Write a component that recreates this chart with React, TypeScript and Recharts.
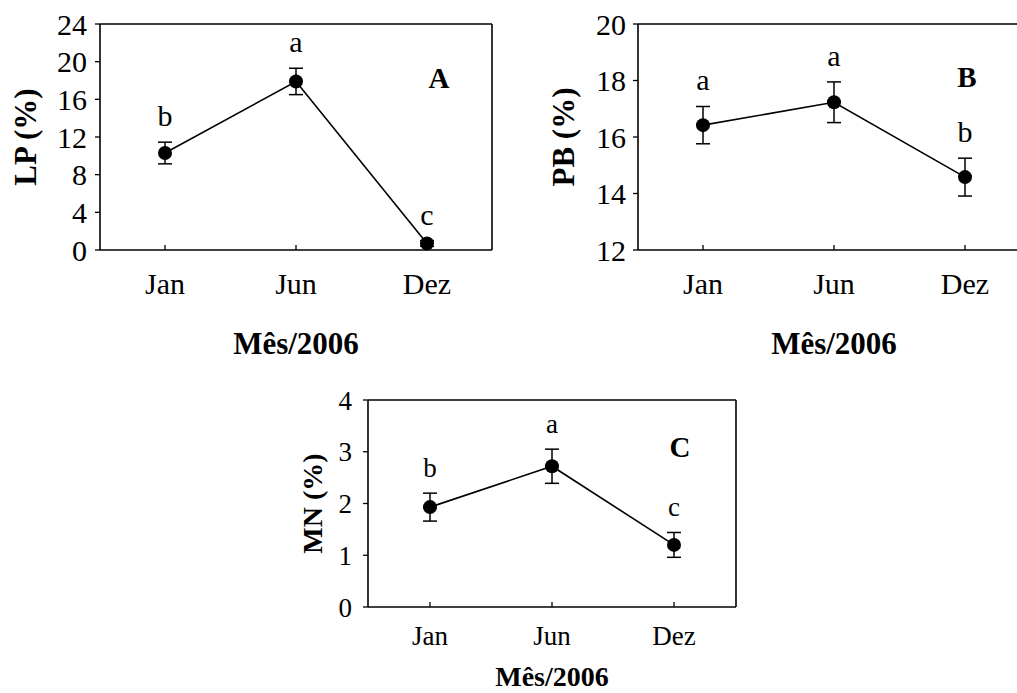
import React from "react";
import {
  LineChart,
  Line,
  XAxis,
  YAxis,
  ErrorBar,
  LabelList,
} from "recharts";

// meses de coleta
const months = ["Jan", "Jun", "Dez"];

// A - LP (%)
const lpMean = [10.3, 17.9, 0.7];
const lpErr = [1.15, 1.4, 0.3];
const lpSig = ["b", "a", "c"];
const lpTicks = [0, 4, 8, 12, 16, 20, 24];

// B - PB (%)
const pbMean = [16.42, 17.23, 14.58];
const pbErr = [0.66, 0.72, 0.67];
const pbSig = ["a", "a", "b"];
const pbTicks = [12, 14, 16, 18, 20];

// C - MN (%)
const mnMean = [1.93, 2.72, 1.2];
const mnErr = [0.27, 0.33, 0.24];
const mnSig = ["b", "a", "c"];
const mnTicks = [0, 1, 2, 3, 4];

const FONT = "'Liberation Serif', 'Times New Roman', serif";

const buildRows = (mean: number[], err: number[], sig: string[]) =>
  months.map((m, i) => ({
    m,
    v: mean[i],
    err: err[i],
    top: mean[i] + err[i],
    sig: sig[i],
  }));

interface PanelProps {
  rows: ReturnType<typeof buildRows>;
  ticks: number[];
  yLabel: string;
  tag: string;
  width: number;
  height: number;
  xAxisHeight: number;
  xPad: number;
  tickFont: number;
  labelFont: number;
  tagFont: number;
  yTickMargin: number;
  xTickMargin: number;
  yLabelDist: number;
  tagDx: number;
  tagDy: number;
  titleOffset: number;
}

function Panel(p: PanelProps) {
  const domain = [p.ticks[0], p.ticks[p.ticks.length - 1]];

  const yLabelContent = (props: any) => {
    const vb = props.viewBox || {};
    const cx = vb.x + vb.width - p.yLabelDist;
    const cy = vb.y + vb.height / 2;
    return (
      <text
        x={cx}
        y={cy}
        transform={`rotate(-90 ${cx} ${cy})`}
        textAnchor="middle"
        dominantBaseline="central"
        fontFamily={FONT}
        fontWeight="bold"
        fontSize={p.labelFont}
        fill="#000"
      >
        {p.yLabel}
      </text>
    );
  };

  // letra do painel (A, B, C), relativa ao canto superior direito
  const tagContent = (props: any) => {
    const vb = props.viewBox || {};
    return (
      <text
        x={vb.x + vb.width - p.tagDx}
        y={vb.y + vb.height + p.tagDy}
        textAnchor="middle"
        dominantBaseline="central"
        fontFamily={FONT}
        fontWeight="bold"
        fontSize={p.tagFont}
        fill="#000"
      >
        {p.tag}
      </text>
    );
  };

  const axisLine = { stroke: "#000", strokeWidth: 1.6 };

  return (
    <LineChart
      width={p.width}
      height={p.height}
      data={p.rows}
      margin={{ top: 23, right: 27, left: 0, bottom: 0 }}
    >
      <XAxis
        dataKey="m"
        height={p.xAxisHeight}
        padding={{ left: p.xPad, right: p.xPad }}
        axisLine={axisLine}
        tickLine={{ stroke: "#000", strokeWidth: 1.3 }}
        tickSize={-5}
        tickMargin={p.xTickMargin}
        tick={{ fill: "#000", fontSize: p.tickFont, fontFamily: FONT }}
        label={{
          value: "Mês/2006",
          position: "insideBottom",
          offset: p.titleOffset,
          fill: "#000",
          fontSize: p.labelFont,
          fontWeight: "bold",
          fontFamily: FONT,
        }}
      />
      <XAxis
        xAxisId="top"
        dataKey="m"
        orientation="top"
        height={1}
        padding={{ left: p.xPad, right: p.xPad }}
        tick={false}
        tickLine={false}
        axisLine={axisLine}
        label={{ value: p.tag, content: tagContent }}
      />
      <YAxis
        domain={domain}
        ticks={p.ticks}
        width={100}
        axisLine={axisLine}
        tickLine={{ stroke: "#000", strokeWidth: 1.3 }}
        tickSize={5}
        tickMargin={p.yTickMargin}
        interval={0}
        tick={{ fill: "#000", fontSize: p.tickFont, fontFamily: FONT }}
        label={{ value: p.yLabel, content: yLabelContent }}
      />
      <YAxis
        yAxisId="right"
        orientation="right"
        domain={domain}
        width={1}
        tick={false}
        tickLine={false}
        axisLine={axisLine}
      />
      <Line
        dataKey="v"
        stroke="#000"
        strokeWidth={1.6}
        dot={{ r: 7, fill: "#000", stroke: "#000", strokeWidth: 0 }}
        activeDot={false}
        isAnimationActive={false}
      >
        <ErrorBar
          dataKey="err"
          direction="y"
          width={7}
          stroke="#000"
          strokeWidth={1.5}
          isAnimationActive={false}
        />
      </Line>
      {/* linha invisivel so para as letras de significancia */}
      <Line
        dataKey="top"
        xAxisId="top"
        yAxisId="right"
        stroke="none"
        dot={false}
        activeDot={false}
        isAnimationActive={false}
      >
        <LabelList
          dataKey="sig"
          position="top"
          offset={16}
          fill="#000"
          fontSize={p.tickFont}
          fontFamily={FONT}
        />
      </Line>
    </LineChart>
  );
}

export default function App() {
  const lpRows = buildRows(lpMean, lpErr, lpSig);
  const pbRows = buildRows(pbMean, pbErr, pbSig);
  const mnRows = buildRows(mnMean, mnErr, mnSig);

  return (
    <div
      style={{
        position: "fixed",
        left: 0,
        top: 0,
        width: 1017,
        height: 693,
        overflow: "hidden",
        background: "#fff",
      }}
    >
      <div style={{ position: "absolute", left: 0, top: 0 }}>
        <Panel
          rows={lpRows}
          ticks={lpTicks}
          yLabel="LP (%)"
          tag="A"
          width={520}
          height={360}
          xAxisHeight={110}
          xPad={65}
          tickFont={30}
          labelFont={31}
          tagFont={29}
          yTickMargin={8}
          xTickMargin={28}
          yLabelDist={75}
          tagDx={53}
          tagDy={54}
          titleOffset={6}
        />
      </div>
      <div style={{ position: "absolute", left: 538, top: 0 }}>
        <Panel
          rows={pbRows}
          ticks={pbTicks}
          yLabel="PB (%)"
          tag="B"
          width={520}
          height={360}
          xAxisHeight={110}
          xPad={65}
          tickFont={30}
          labelFont={31}
          tagFont={29}
          yTickMargin={7}
          xTickMargin={28}
          yLabelDist={75}
          tagDx={63}
          tagDy={53}
          titleOffset={6}
        />
      </div>
      <div style={{ position: "absolute", left: 268, top: 376 }}>
        <Panel
          rows={mnRows}
          ticks={mnTicks}
          yLabel="MN (%)"
          tag="C"
          width={496}
          height={321}
          xAxisHeight={90}
          xPad={62}
          tickFont={27}
          labelFont={28}
          tagFont={29}
          yTickMargin={11}
          xTickMargin={24}
          yLabelDist={56}
          tagDx={56}
          tagDy={47}
          titleOffset={11}
        />
      </div>
    </div>
  );
}
